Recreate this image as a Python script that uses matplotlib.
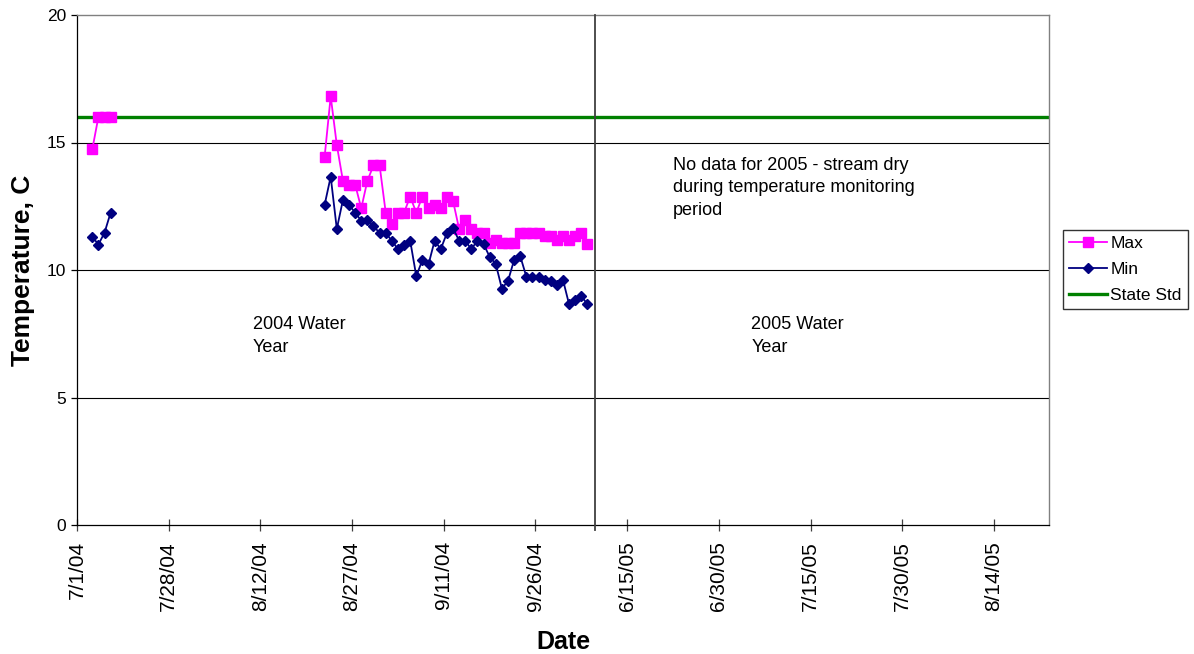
import numpy as np
import matplotlib
matplotlib.use("Agg")
import matplotlib.pyplot as plt

plt.rcParams['font.family'] = ['Liberation Sans', 'DejaVu Sans']

# ---- data ----
tick_labels = ["7/1/04", "7/28/04", "8/12/04", "8/27/04", "9/11/04", "9/26/04",
               "6/15/05", "6/30/05", "7/15/05", "7/30/05", "8/14/05"]

# category indices of the readings (first block: early July 2004, second: late Aug - early Oct 2004)
cat_early = [2, 3, 4, 5]
cat_main = list(range(40, 84))

max_early = [14.73, 16.0, 16.0, 16.0]
min_early = [11.31, 11.0, 11.46, 12.25]

max_main = [14.43, 16.81, 14.90, 13.50, 13.35, 13.35, 12.42, 13.50, 14.10, 14.10,
            12.25, 11.79, 12.25, 12.25, 12.88, 12.25, 12.88, 12.42, 12.56, 12.42,
            12.88, 12.72, 11.62, 11.96, 11.62, 11.46, 11.46, 11.05, 11.18, 11.05,
            11.05, 11.05, 11.46, 11.46, 11.46, 11.46, 11.33, 11.33, 11.18, 11.33,
            11.18, 11.33, 11.46, 11.01]
min_main = [12.55, 13.66, 11.61, 12.75, 12.55, 12.25, 11.93, 11.96, 11.74, 11.44,
            11.45, 11.15, 10.82, 10.98, 11.15, 9.76, 10.39, 10.22, 11.15, 10.82,
            11.44, 11.65, 11.15, 11.15, 10.82, 11.15, 11.02, 10.52, 10.24, 9.27,
            9.57, 10.39, 10.55, 9.74, 9.74, 9.74, 9.61, 9.55, 9.41, 9.61,
            8.65, 8.82, 8.98, 8.65]

state_std = 16.0
n_categories = 159
divider_cat = 84.7

# ---- figure ----
fig = plt.figure(figsize=(11.94, 6.54), dpi=100)
ax = fig.add_axes([77/1194, 1 - 525/654, 972/1194, 510/654])

x_all = cat_early + [np.nan] + cat_main
max_all = max_early + [np.nan] + max_main
min_all = min_early + [np.nan] + min_main

ax.set_xlim(0, n_categories)
ax.set_ylim(0, 20)

for yv in [5, 10, 15]:
    ax.axhline(yv, color='black', lw=0.8, zorder=1)

ax.axhline(state_std, color='#008000', lw=2.4, zorder=2, label='State Std')

xs = np.array(x_all, dtype=float) + 0.5
ax.plot(xs, max_all, color='#FF00FF', lw=1.3, marker='s', markersize=7,
        markeredgecolor='#FF00FF', label='Max', zorder=4)
ax.plot(xs, min_all, color='#000080', lw=1.3, marker='D', markersize=5.5,
        markeredgecolor='#000080', label='Min', zorder=5)

ax.axvline(divider_cat, ymin=-0.01, ymax=1, color='#404040', lw=1.3,
           clip_on=False, zorder=3)

# ticks
ax.set_xticks(np.arange(len(tick_labels)) * 15)
ax.set_xticklabels(tick_labels, rotation=90, fontsize=15)
ax.set_yticks([0, 5, 10, 15, 20])
ax.set_yticklabels(['0', '5', '10', '15', '20'], fontsize=12.5)
ax.tick_params(axis='x', direction='inout', length=9, width=0.9, pad=7, color='#404040')
ax.tick_params(axis='y', direction='out', length=4, width=0.9, pad=4)

for s in ['left', 'bottom']:
    ax.spines[s].set_color('black')
    ax.spines[s].set_linewidth(0.9)
for s in ['top', 'right']:
    ax.spines[s].set_color('#808080')
    ax.spines[s].set_linewidth(1.0)

ax.set_xlabel('Date', fontsize=18, fontweight='bold', labelpad=14)
ax.set_ylabel('Temperature, C', fontsize=19, fontweight='bold', labelpad=8)

# annotations
ax.text(28.8, 8.2, '2004 Water\nYear', fontsize=13, va='top', ha='left', linespacing=1.45)
ax.text(110.3, 8.2, '2005 Water\nYear', fontsize=13, va='top', ha='left', linespacing=1.45)
ax.text(97.5, 14.45, 'No data for 2005 - stream dry\nduring temperature monitoring\nperiod',
        fontsize=13, va='top', ha='left', linespacing=1.45)

# legend
h, l = ax.get_legend_handles_labels()
order = [l.index('Max'), l.index('Min'), l.index('State Std')]
leg = ax.legend([h[i] for i in order], [l[i] for i in order],
                loc='upper left', bbox_to_anchor=(1.014, 0.578), borderaxespad=0,
                fontsize=12.5, frameon=True, fancybox=False, edgecolor='black',
                handlelength=2.2, handletextpad=0.2, labelspacing=0.6,
                borderpad=0.35)
leg.get_frame().set_linewidth(1.0)

fig.savefig('out.png', dpi=100)
